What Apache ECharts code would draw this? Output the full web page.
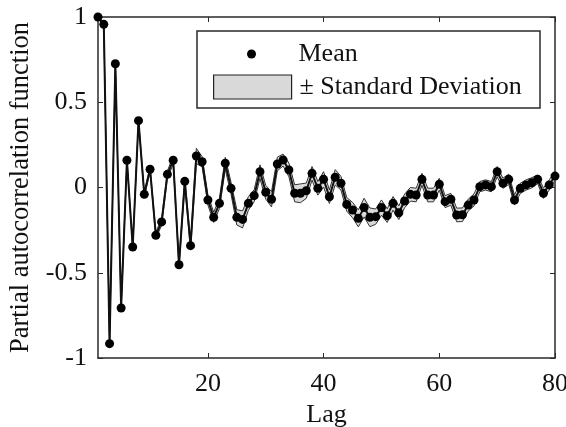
<!DOCTYPE html>
<html>
<head>
<meta charset="utf-8">
<script src="https://cdn.jsdelivr.net/npm/echarts@6/dist/echarts.min.js"></script>
<style>
html,body{margin:0;padding:0;background:#fff;}
#chart{width:566px;height:427px;}
</style>
</head>
<body>
<div id="chart"></div>
<script>
// Lags 1..80
var lags = [];
for (var i = 1; i <= 80; i++) lags.push(String(i));

// Mean partial autocorrelation at each lag
var meanValues = [
  1.0, 0.957, -0.916, 0.726, -0.707, 0.16, -0.349, 0.392, -0.04, 0.107,
  -0.28, -0.202, 0.077, 0.16, -0.453, 0.036, -0.341, 0.185, 0.151, -0.073,
  -0.175, -0.093, 0.142, -0.005, -0.175, -0.187, -0.093, -0.048, 0.093, -0.028,
  -0.069, 0.138, 0.161, 0.103, -0.034, -0.034, -0.019, 0.083, -0.005, 0.048,
  -0.054, 0.06, 0.025, -0.099, -0.132, -0.181, -0.118, -0.175, -0.171, -0.118,
  -0.165, -0.093, -0.148, -0.079, -0.04, -0.044, 0.048, -0.044, -0.044, 0.019,
  -0.083, -0.069, -0.161, -0.16, -0.103, -0.073, 0.005, 0.015, 0.005, 0.093,
  0.025, 0.048, -0.073, -0.005, 0.015, 0.028, 0.048, -0.034, 0.015, 0.067
];

// Standard deviation at each lag (estimated from the band width)
var stdValues = [
  0.005, 0.008, 0.01, 0.01, 0.01, 0.012, 0.012, 0.012, 0.015, 0.015,
  0.018, 0.02, 0.02, 0.025, 0.02, 0.025, 0.025, 0.045, 0.03, 0.03,
  0.03, 0.03, 0.035, 0.035, 0.045, 0.05, 0.04, 0.035, 0.04, 0.04,
  0.045, 0.04, 0.035, 0.04, 0.05, 0.055, 0.045, 0.04, 0.04, 0.045,
  0.04, 0.045, 0.04, 0.04, 0.045, 0.05, 0.055, 0.055, 0.045, 0.045,
  0.04, 0.04, 0.04, 0.04, 0.04, 0.04, 0.035, 0.04, 0.04, 0.035,
  0.035, 0.035, 0.04, 0.04, 0.035, 0.035, 0.03, 0.03, 0.03, 0.03,
  0.03, 0.03, 0.03, 0.03, 0.03, 0.03, 0.025, 0.03, 0.03, 0.025
];

var xTickLabels = ['20', '40', '60', '80'];
var yTicks = { min: -1, max: 1, step: 0.5 };

var lowerValues = meanValues.map(function (m, i) { return +(m - stdValues[i]).toFixed(4); });
var bandValues = stdValues.map(function (s) { return +(2 * s).toFixed(4); });

var FONT = "'Liberation Serif', 'Times New Roman', serif";
var AX = '#2a2a2a';

function isTick(idx, val) { return xTickLabels.indexOf(String(val)) >= 0; }

var chart = echarts.init(document.getElementById('chart'), null, { renderer: 'canvas' });

chart.setOption({
  animation: false,
  backgroundColor: '#fff',
  grid: { left: 98, right: 11, top: 17, bottom: 69, containLabel: false, outerBoundsMode: 'none' },
  xAxis: [{
    type: 'category',
    data: lags,
    boundaryGap: false,
    name: 'Lag',
    nameLocation: 'middle',
    nameGap: 40,
    nameTextStyle: { fontFamily: FONT, fontSize: 26, color: '#111' },
    axisLine: { show: true, onZero: false, lineStyle: { color: AX, width: 1.5 } },
    axisTick: { show: true, inside: true, length: 5, interval: isTick, lineStyle: { color: AX, width: 1 } },
    axisLabel: { show: true, interval: isTick, margin: 13, fontFamily: FONT, fontSize: 26, color: '#111' },
    splitLine: { show: false }
  }, {
    type: 'category',
    data: lags,
    boundaryGap: false,
    position: 'top',
    axisLine: { show: true, onZero: false, lineStyle: { color: AX, width: 1.5 } },
    axisTick: { show: true, inside: true, length: 5, interval: isTick, lineStyle: { color: AX, width: 1 } },
    axisLabel: { show: false },
    splitLine: { show: false }
  }],
  yAxis: [{
    type: 'value',
    min: yTicks.min, max: yTicks.max, interval: yTicks.step,
    name: 'Partial autocorrelation function',
    nameLocation: 'middle',
    nameGap: 62,
    nameTextStyle: { fontFamily: FONT, fontSize: 26.5, color: '#111' },
    axisLine: { show: true, onZero: false, lineStyle: { color: AX, width: 1.5 } },
    axisTick: { show: true, inside: true, length: 5, lineStyle: { color: AX, width: 1 } },
    axisLabel: { margin: 11, fontFamily: FONT, fontSize: 26, color: '#111' },
    splitLine: { show: false }
  }, {
    type: 'value',
    position: 'right',
    min: yTicks.min, max: yTicks.max, interval: yTicks.step,
    axisLine: { show: true, onZero: false, lineStyle: { color: AX, width: 1.5 } },
    axisTick: { show: true, inside: true, length: 5, lineStyle: { color: AX, width: 1 } },
    axisLabel: { show: false },
    splitLine: { show: false }
  }],
  graphic: [{
    type: 'rect',
    z: 1,
    shape: { x: 197, y: 31, width: 343, height: 77 },
    style: { fill: '#fff', stroke: '#2a2a2a', lineWidth: 1.5 }
  }],
  legend: [{
    z: 10,
    left: 247, top: 41,
    padding: 0,
    itemWidth: 78, itemHeight: 9,
    itemGap: 0,
    data: [{ name: 'Mean', icon: 'circle', itemStyle: { color: '#000' } }],
    textStyle: { fontFamily: FONT, fontSize: 26, color: '#111', padding: [0, 0, 0, 3] },
    selectedMode: false
  }, {
    z: 10,
    left: 213, top: 74,
    padding: 0,
    itemWidth: 78, itemHeight: 24,
    data: [{ name: '± Standard Deviation', icon: 'rect', itemStyle: { color: '#d9d9d9', borderColor: '#222', borderWidth: 1.2 } }],
    textStyle: { fontFamily: FONT, fontSize: 26, color: '#111', padding: [0, 0, 0, 3] },
    selectedMode: false
  }],
  series: [{
    name: 'lower',
    type: 'line',
    data: lowerValues,
    stack: 'band',
    stackStrategy: 'all',
    symbol: 'none',
    lineStyle: { color: '#333', width: 1 },
    z: 2
  }, {
    name: '± Standard Deviation',
    type: 'line',
    data: bandValues,
    stack: 'band',
    stackStrategy: 'all',
    symbol: 'none',
    lineStyle: { color: '#333', width: 1 },
    areaStyle: { color: '#d9d9d9', opacity: 1 },
    z: 2
  }, {
    name: 'Mean',
    type: 'line',
    data: meanValues,
    symbol: 'circle',
    symbolSize: 9,
    showSymbol: true,
    showAllSymbol: true,
    itemStyle: { color: '#000' },
    lineStyle: { color: '#111', width: 2 },
    z: 3
  }]
});
</script>
</body>
</html>
